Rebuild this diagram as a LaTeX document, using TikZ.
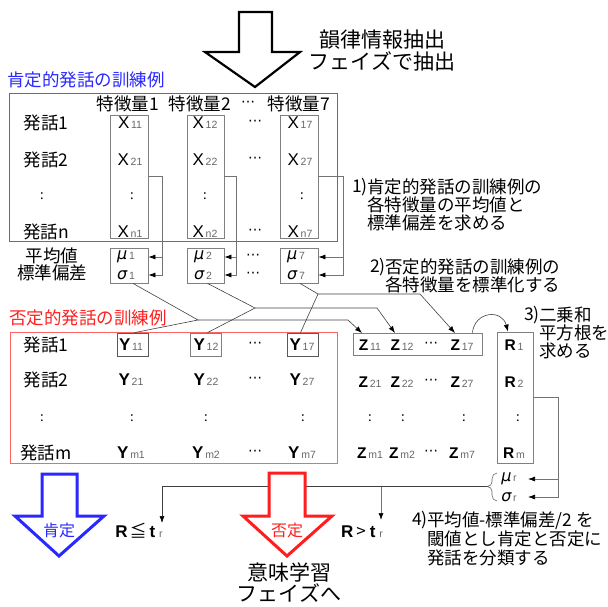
\documentclass[tikz,border=0pt]{standalone}
\usepackage{fontspec}
\setmainfont{Noto Sans CJK JP}
\newfontfamily\lat{Liberation Sans}
\newfontfamily\grk{DejaVu Sans}
\usetikzlibrary{arrows.meta}
\newcommand\fsz[2]{\fontsize{#1}{#2}\selectfont}
\newcommand\sbx[1]{{\lat\fsz{10.5}{10.5}\color{black!60}\,#1}}
\newcommand\VX[1]{{\lat\fsz{17}{17}X}\sbx{#1}}
\newcommand\VY[1]{{\lat\bfseries\fsz{17}{17}Y}\sbx{#1}}
\newcommand\VZ[1]{{\lat\bfseries\fsz{15.5}{15.5}Z}\sbx{#1}}
\newcommand\VR[1]{{\lat\bfseries\fsz{15.5}{15.5}R}\sbx{#1}}
\newcommand\MU[1]{{\grk\itshape\fsz{16}{16}μ}\sbx{#1}}
\newcommand\SG[1]{{\grk\itshape\fsz{16}{16}σ}\sbx{#1}}
\definecolor{bl}{RGB}{40,40,255}
\definecolor{blbox}{RGB}{90,90,255}
\definecolor{rd}{RGB}{255,30,30}
\definecolor{rdbox}{RGB}{255,100,100}
\tikzset{
  cjk/.style={font=\fsz{17.5}{18}, inner sep=0pt},
  colon/.style={font=\fsz{13}{13}, inner sep=0pt},
  plain/.style={inner sep=0pt},
  dotsn/.style={font=\grk\fsz{14}{14}, inner sep=0pt},
  colbox/.style={draw=black!50, line width=0.8pt, inner sep=0pt},
  gline/.style={draw=black!55, line width=0.7pt},
  dline/.style={draw=black!75, line width=0.6pt},
  arr/.style={-{Latex[length=7pt,width=5pt,color=black]}},
}
\begin{document}
\begin{tikzpicture}[x=1pt,y=-1pt]
\useasboundingbox (0,0) rectangle (608,606);
% top arrow
\draw[line width=2.2pt, fill=white, line join=miter] (239,12) -- (272,12) -- (272,52) -- (300,52) -- (255,87) -- (205,52) -- (239,52) -- cycle;
\node[font=\fsz{21}{22}, align=center, inner sep=0pt] (ttl) at (382,51) {韻律情報抽出\\フェイズで抽出};
% positive set
\node[cjk, text=bl, anchor=west] (bl) at (7,80) {肯定的発話の訓練例};
\node[draw=blbox, line width=0.8pt, minimum width=328pt, minimum height=148pt, inner sep=0pt] (bbox) at (173,167) {};
\node[cjk] (h1) at (128,104) {特徴量1};
\node[cjk] (h2) at (200,104) {特徴量2};
\node[dotsn] (hd) at (248,104) {⋯};
\node[cjk] (h7) at (299,104) {特徴量7};
\node[cjk] (p1) at (46,123) {発話1};
\node[cjk] (p2) at (46,160) {発話2};
\node[colon] (pc) at (42,196) {:};
\node[cjk] (pn) at (46,232) {発話n};
\node[colbox, minimum width=38pt, minimum height=123pt] (xc1) at (129,176.5) {};
\node[colbox, minimum width=37pt, minimum height=123pt] (xc2) at (205.5,176.5) {};
\node[colbox, minimum width=38pt, minimum height=123pt] (xc7) at (299,176.5) {};
\node[plain] (x11) at (130,123) {\VX{11}};
\node[plain] (x21) at (130,160) {\VX{21}};
\node[colon] (xc1c) at (132,196) {:};
\node[plain] (xn1) at (130,232) {\VX{n1}};
\node[plain] (x12) at (205,123) {\VX{12}};
\node[plain] (x22) at (205,160) {\VX{22}};
\node[colon] (xc2c) at (205,196) {:};
\node[plain] (xn2) at (205,232) {\VX{n2}};
\node[plain] (x17) at (300,123) {\VX{17}};
\node[plain] (x27) at (300,160) {\VX{27}};
\node[colon] (xc7c) at (302,196) {:};
\node[plain] (xn7) at (300,232) {\VX{n7}};
\node[dotsn] (xd1) at (255,123) {⋯};
\node[dotsn] (xd2) at (255,160) {⋯};
\node[dotsn] (xdn) at (255,232) {⋯};
% mean / sd boxes
\node[cjk] (lm) at (52,256) {平均値};
\node[cjk] (ls) at (52,273) {標準偏差};
\node[colbox, minimum width=38pt, minimum height=35pt] (mb1) at (129,265.5) {};
\node[colbox, minimum width=37pt, minimum height=35pt] (mb2) at (205.5,265.5) {};
\node[colbox, minimum width=38pt, minimum height=35pt] (mb7) at (299,265.5) {};
\node[plain] (mu1) at (126,257) {\MU{1}};
\node[plain] (sg1) at (126,275) {\SG{1}};
\node[plain] (mu2) at (203,257) {\MU{2}};
\node[plain] (sg2) at (203,275) {\SG{2}};
\node[plain] (mu7) at (296,257) {\MU{7}};
\node[plain] (sg7) at (296,275) {\SG{7}};
\node[dotsn] (md1) at (253,257) {⋯};
\node[dotsn] (md2) at (253,275) {⋯};
\coordinate (k1) at (162,176.5);
\coordinate (k2) at (236,176.5);
\coordinate (k7) at (343,176.5);
\draw[gline, arr] (xc1.east) -| (k1 |- sg1) -- (mb1.east |- sg1);
\draw[gline, arr] (k1 |- mu1) -- (mb1.east |- mu1);
\draw[gline, arr] (xc2.east) -| (k2 |- sg2) -- (mb2.east |- sg2);
\draw[gline, arr] (k2 |- mu2) -- (mb2.east |- mu2);
\draw[gline, arr] (xc7.east) -| (k7 |- sg7) -- (mb7.east |- sg7);
\draw[gline, arr] (k7 |- mu7) -- (mb7.east |- mu7);
% annotations
\node[cjk, anchor=east] (a1n) at (368,187) {1)};
\node[cjk, anchor=west, align=left] (a1) at (367,205) {肯定的発話の訓練例の\\各特徴量の平均値と\\標準偏差を求める};
\node[cjk, anchor=east] (a2n) at (386,267) {2)};
\node[cjk, anchor=west, align=left] (a2) at (385,276) {否定的発話の訓練例の\\各特徴量を標準化する};
\node[cjk, anchor=east] (a3n) at (540,315) {3)};
\node[cjk, anchor=west, align=left] (a3) at (539,332.5) {二乗和\\平方根を\\求める};
% negative set
\node[cjk, text=rd, anchor=west] (rl) at (9,318) {否定的発話の訓練例};
\node[draw=rdbox, line width=0.8pt, minimum width=327pt, minimum height=131pt, inner sep=0pt] (rbox) at (173.5,397.5) {};
\node[cjk] (q1) at (46,345) {発話1};
\node[cjk] (q2) at (46,380) {発話2};
\node[colon] (qc) at (42,418) {:};
\node[cjk] (qm) at (46,453) {発話m};
\node[draw=black!65, line width=0.8pt, minimum width=31pt, minimum height=23pt, inner sep=0pt] (yb1) at (132.5,344.5) {};
\node[colbox, minimum width=31pt, minimum height=23pt] (yb2) at (205.5,344.5) {};
\node[draw=black!65, line width=0.8pt, minimum width=31pt, minimum height=23pt, inner sep=0pt] (yb7) at (302.5,344.5) {};
\node[plain] (y11) at (131,345) {\VY{11}};
\node[plain] (y21) at (131,380) {\VY{21}};
\node[colon] (yc1) at (132,418) {:};
\node[plain] (ym1) at (131,453) {\VY{m1}};
\node[plain] (y12) at (206,345) {\VY{12}};
\node[plain] (y22) at (206,380) {\VY{22}};
\node[colon] (yc2) at (206,418) {:};
\node[plain] (ym2) at (206,453) {\VY{m2}};
\node[plain] (y17) at (302,345) {\VY{17}};
\node[plain] (y27) at (302,380) {\VY{27}};
\node[colon] (yc7) at (303,418) {:};
\node[plain] (ym7) at (302,453) {\VY{m7}};
\node[dotsn] (yd1) at (255,345) {⋯};
\node[dotsn] (yd2) at (255,380) {⋯};
\node[dotsn] (ydm) at (255,453) {⋯};
% Z block
\node[colbox, minimum width=129pt, minimum height=22pt] (zb) at (417.5,344) {};
\node[plain] (z11) at (370,345) {\VZ{11}};
\node[plain] (z12) at (402,345) {\VZ{12}};
\node[dotsn] (zd1) at (431,345) {⋯};
\node[plain] (z17) at (462,345) {\VZ{17}};
\node[plain] (z21) at (370,382) {\VZ{21}};
\node[plain] (z22) at (402,382) {\VZ{22}};
\node[dotsn] (zd2) at (431,382) {⋯};
\node[plain] (z27) at (462,382) {\VZ{27}};
\node[colon] (zc1) at (370,418) {:};
\node[colon] (zc2) at (403,418) {:};
\node[colon] (zc7) at (464,418) {:};
\node[plain] (zm1) at (370,453) {\VZ{m1}};
\node[plain] (zm2) at (402,453) {\VZ{m2}};
\node[dotsn] (zdm) at (431,453) {⋯};
\node[plain] (zm7) at (462,453) {\VZ{m7}};
% R block
\node[colbox, minimum width=36pt, minimum height=131pt] (rb) at (515,397.5) {};
\node[plain] (r1) at (514,345) {\VR{1}};
\node[plain] (r2) at (514,382) {\VR{2}};
\node[colon] (rc) at (518,418) {:};
\node[plain] (rm) at (514,453) {\VR{m}};
% connectors sigma / Y -> Z
\coordinate (j1) at (198,320);
\coordinate (j2) at (255,308);
\coordinate (j7) at (318,294);
\coordinate (b1) at (348,320);
\coordinate (b2) at (377,308);
\coordinate (b7) at (420,294);
\coordinate (t1) at (362,333);
\coordinate (t2) at (395,333);
\coordinate (t7) at (455,333);
\draw[dline] ([xshift=4]mb1.south) -- (j1) -- ([xshift=2]yb1.north);
\draw[dline] ([xshift=2]mb2.south) -- (j2) -- ([xshift=2]yb2.north);
\draw[dline] ([xshift=1]mb7.south) -- (j7) -- ([xshift=-2]yb7.north);
\draw[dline, arr] (j1) -- (b1) -- (t1);
\draw[dline, arr] (j2) -- (b2) -- (t2);
\draw[dline, arr] (j7) -- (b7) -- (t7);
\draw[dline, arr] ([xshift=-10]zb.north east) .. controls (475,311) and (502,309) .. ([xshift=-7]rb.north);
% mean / sd of R
\node[plain] (mur) at (509,479) {\MU{r}};
\node[plain] (sgr) at (509,497) {\SG{r}};
\coordinate (k8) at (558,397.5);
\coordinate (ar) at (528,0);
\draw[gline, arr] (rb.east) -| (k8 |- sgr) -- (ar |- sgr);
\draw[gline, arr] (k8 |- mur) -- (ar |- mur);
\draw[black!60, line width=0.6pt] (497,473) to[out=180,in=90] (492,479) -- (492,482) to[out=-90,in=0] (487,486.5) to[out=0,in=90] (492,491) -- (492,495) to[out=-90,in=180] (497,501);
\coordinate (bt) at (487,486.5);
\coordinate (la) at (162,523);
\coordinate (ra) at (381,520);
\draw[dline, arr] (bt) -| (la);
\draw[gline, arr] (bt -| ra) -- (ra);
% result arrows
\draw[bl, line width=3pt, fill=white, line join=miter] (42,474) -- (77,474) -- (77,516) -- (104,516) -- (59,556) -- (15,516) -- (42,516) -- cycle;
\node[font=\fsz{16}{16}, text=bl, inner sep=0pt] (pa) at (59,530) {肯定};
\draw[rd, line width=3pt, fill=white, line join=miter] (269,473) -- (305,473) -- (305,516) -- (332,516) -- (287,556) -- (243,516) -- (269,516) -- cycle;
\node[font=\fsz{16}{16}, text=rd, inner sep=0pt] (na) at (287,530) {否定};
\node[plain] (th1) at (139,531) {{\lat\bfseries\fsz{17}{17}R}\hspace{2pt}{\fsz{17}{17}≦}\hspace{3pt}{\lat\bfseries\fsz{17}{17}t}\hspace{2pt}\sbx{r}};
\node[plain] (th2) at (362,532) {{\lat\bfseries\fsz{17}{17}R}\hspace{3pt}{\fsz{17}{17}>}\hspace{4pt}{\lat\bfseries\fsz{17}{17}t}\hspace{2pt}\sbx{r}};
\node[font=\fsz{21}{21}, align=center, inner sep=0pt] (nxt) at (289,583) {意味学習\\フェイズへ};
\node[cjk, anchor=east] (a4n) at (428,520) {4)};
\node[font=\fsz{17.5}{19}, inner sep=0pt, anchor=west, align=left] (a4) at (427,539) {平均値-標準偏差/2 を\\閾値とし肯定と否定に\\発話を分類する};
\end{tikzpicture}
\end{document}
